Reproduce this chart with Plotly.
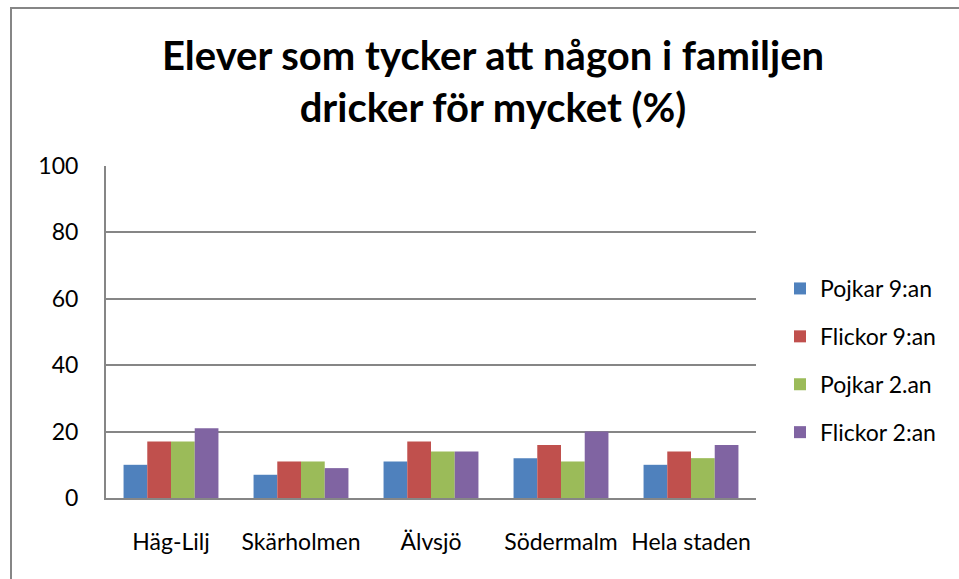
import plotly.graph_objects as go

categories = ["Häg-Lilj", "Skärholmen", "Älvsjö", "Södermalm", "Hela staden"]
series_names = ["Pojkar 9:an", "Flickor 9:an", "Pojkar 2.an", "Flickor 2:an"]
pojkar_9 = [10, 7, 11, 12, 10]
flickor_9 = [17, 11, 17, 16, 14]
pojkar_2 = [17, 11, 14, 11, 12]
flickor_2 = [21, 9, 14, 20, 16]
y_ticks = [0, 20, 40, 60, 80, 100]

colors = ["#4F81BD", "#C0504D", "#9BBB59", "#8064A2"]
values = [pojkar_9, flickor_9, pojkar_2, flickor_2]

W, H = 959, 579
L, R, T, B = 106, 203, 166, 81
FONT = "Lato, Open Sans, sans-serif"

fig = go.Figure()
for name, vals, c in zip(series_names, values, colors):
    fig.add_trace(go.Bar(x=categories, y=vals, name=name, legendgroup=name,
                         marker=dict(color=c, line=dict(width=0))))

pw = W - L - R
ph = H - T - B
def px(x):
    return (x - L) / pw
def py(y):
    return (H - B - y) / ph

fig.update_layout(
    width=W, height=H,
    margin=dict(l=L, r=R, t=T, b=B),
    paper_bgcolor="white", plot_bgcolor="white",
    barmode="group", bargap=0.27, bargroupgap=0,
    font=dict(family=FONT, color="#000000", size=23),
    title=dict(
        text="<b>Elever som tycker att någon i familjen<br>dricker för mycket (%)</b>",
        x=493 / W, xanchor="center", y=1 - 70 / H, yanchor="middle",
        font=dict(size=40, family=FONT, color="#000000"),
    ),
    legend=dict(
        x=px(780), y=py(267), xanchor="left", yanchor="top",
        font=dict(size=23), tracegroupgap=15, itemwidth=30,
        bgcolor="rgba(0,0,0,0)",
    ),
    xaxis=dict(
        showline=True, linecolor="#868686", linewidth=2,
        ticks="", tickfont=dict(size=23), ticklabelstandoff=22,
    ),
    yaxis=dict(
        range=[0, 100], tickvals=y_ticks, showgrid=True, gridcolor="#868686", gridwidth=1.5,
        showline=True, linecolor="#868686", linewidth=2, zeroline=False,
        ticks="", tickfont=dict(size=23), ticklabelstandoff=21,
    ),
    shapes=[dict(
        type="rect", xref="paper", yref="paper",
        x0=px(11), x1=px(975), y0=py(600), y1=py(8),
        line=dict(color="#868686", width=2), fillcolor="rgba(0,0,0,0)", layer="below",
    )],
)

fig.write_html("out.html", config={"displayModeBar": False},
               post_script="document.body.style.margin='0';")
